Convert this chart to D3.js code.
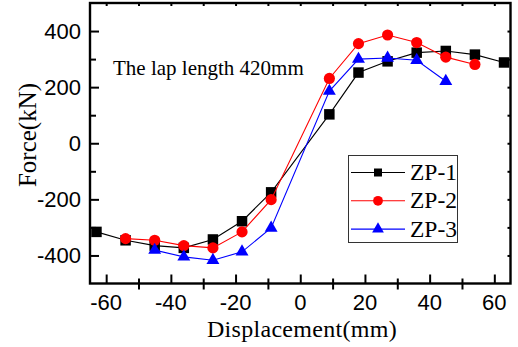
<!DOCTYPE html>
<html>
<head>
<meta charset="utf-8">
<script src="https://cdn.jsdelivr.net/npm/d3@7"></script>
<style>
  html, body { margin: 0; padding: 0; background: #fff; }
  svg { display: block; }
</style>
</head>
<body>
<svg id="chart" width="518" height="347"></svg>
<script>
// Displacement steps (mm) and measured force (kN) for each specimen
const dispZP1 = [-63, -54, -45, -36, -27, -18, -9, 9, 18, 27, 36, 45, 54, 63];
const forceZP1 = [-316, -346, -365, -373, -343, -278, -175, 103, 252, 292, 323, 329, 316, 288];

const dispZP2 = [-54, -45, -36, -27, -18, -9, 9, 18, 27, 36, 45, 54];
const forceZP2 = [-340, -346, -365, -373, -316, -201, 231, 355, 386, 359, 307, 281];

const dispZP3 = [-45, -36, -27, -18, -9, 9, 18, 27, 36, 45];
const forceZP3 = [-381, -405, -417, -387, -302, 186, 300, 304, 296, 221];

const seriesNames = ["ZP-1", "ZP-2", "ZP-3"];
const xTicks = [-60, -40, -20, 0, 20, 40, 60];
const yTicks = [-400, -200, 0, 200, 400];

const series = [
  { name: seriesNames[0], x: dispZP1, y: forceZP1, color: "#000000", symbol: d3.symbolSquare },
  { name: seriesNames[1], x: dispZP2, y: forceZP2, color: "#ff0000", symbol: d3.symbolCircle },
  { name: seriesNames[2], x: dispZP3, y: forceZP3, color: "#0000ff", symbol: d3.symbolTriangle }
];

const svg = d3.select("#chart");
const plot = { left: 90, right: 510.5, top: 3, bottom: 283.5 };

const x = d3.scaleLinear().domain([-65, 65]).range([plot.left, plot.right]);
const y = d3.scaleLinear().domain([-500, 500]).range([plot.bottom, plot.top]);

const sans = "'Liberation Sans', Arial, sans-serif";
const serif = "'Liberation Serif', 'Times New Roman', serif";

// symbol areas: squares ~10.5px, circles ~11px, triangles ~12.5px wide
const symbolSize = s => s === d3.symbolSquare ? 110 : s === d3.symbolCircle ? 98 : 72;

// ---- axes ----
const xMinor = d3.range(-50, 61, 20);
const yMinor = d3.range(-300, 301, 200);

// bottom: major ticks inward, minor ticks crossing
const bottom = svg.append("g").attr("transform", `translate(0,${plot.bottom})`);
bottom.call(d3.axisBottom(x).tickValues(xTicks).tickSize(-9).tickFormat(""))
  .call(g => g.select(".domain").remove());
bottom.selectAll("line").attr("stroke", "#000").attr("stroke-width", 2);
svg.append("g").attr("transform", `translate(0,${plot.bottom - 5})`)
  .call(d3.axisBottom(x).tickValues(xMinor).tickSize(11).tickFormat(""))
  .call(g => g.select(".domain").remove())
  .selectAll("line").attr("stroke", "#000").attr("stroke-width", 2);

// left: major and minor ticks inward
const left = svg.append("g").attr("transform", `translate(${plot.left},0)`);
left.call(d3.axisLeft(y).tickValues(yTicks).tickSize(-9).tickFormat(""))
  .call(g => g.select(".domain").remove());
left.selectAll("line").attr("stroke", "#000").attr("stroke-width", 2);
svg.append("g").attr("transform", `translate(${plot.left},0)`)
  .call(d3.axisLeft(y).tickValues(yMinor).tickSize(-6).tickFormat(""))
  .call(g => g.select(".domain").remove())
  .selectAll("line").attr("stroke", "#000").attr("stroke-width", 2);

// top and right: short inward ticks
svg.append("g").attr("transform", `translate(0,${plot.top})`)
  .call(d3.axisTop(x).tickValues(xTicks.concat(xMinor)).tickSize(-3).tickFormat(""))
  .call(g => g.select(".domain").remove())
  .selectAll("line").attr("stroke", "#000").attr("stroke-width", 2);
svg.append("g").attr("transform", `translate(${plot.right},0)`)
  .call(d3.axisRight(y).tickValues(yTicks.concat(yMinor)).tickSize(-3).tickFormat(""))
  .call(g => g.select(".domain").remove())
  .selectAll("line").attr("stroke", "#000").attr("stroke-width", 2);

// frame
svg.append("rect")
  .attr("x", plot.left).attr("y", plot.top)
  .attr("width", plot.right - plot.left).attr("height", plot.bottom - plot.top)
  .attr("fill", "none").attr("stroke", "#000").attr("stroke-width", 2.4);

// tick labels
svg.append("g").selectAll("text").data(xTicks).join("text")
  .attr("x", d => x(d)).attr("y", 310)
  .attr("text-anchor", "middle")
  .attr("font-family", sans).attr("font-size", 22)
  .text(d => d);
svg.append("g").selectAll("text").data(yTicks).join("text")
  .attr("x", 81).attr("y", d => y(d))
  .attr("dy", "0.36em")
  .attr("text-anchor", "end")
  .attr("font-family", sans).attr("font-size", 22)
  .text(d => d);

// axis titles
svg.append("text")
  .attr("x", 302).attr("y", 337)
  .attr("text-anchor", "middle")
  .attr("font-family", serif).attr("font-size", 24)
  .attr("letter-spacing", 0.3)
  .text("Displacement(mm)");
svg.append("text")
  .attr("transform", "translate(36,135) rotate(-90)")
  .attr("text-anchor", "middle")
  .attr("font-family", serif).attr("font-size", 25)
  .text("Force(kN)");

// annotation
svg.append("text")
  .attr("x", 113).attr("y", 75)
  .attr("font-family", serif).attr("font-size", 21)
  .text("The lap length 420mm");

// ---- data ----
const line = d3.line().x(d => x(d[0])).y(d => y(d[1]));
series.forEach(s => {
  const pts = s.x.map((v, i) => [v, s.y[i]]);
  const g = svg.append("g");
  g.append("path").datum(pts)
    .attr("d", line).attr("fill", "none")
    .attr("stroke", s.color).attr("stroke-width", 1.1);
  g.selectAll("path.pt").data(pts).join("path")
    .attr("class", "pt")
    .attr("transform", d => `translate(${x(d[0])},${y(d[1])})`)
    .attr("d", d3.symbol(s.symbol, symbolSize(s.symbol)))
    .attr("fill", s.color);
});

// ---- legend ----
const legend = svg.append("g");
legend.append("rect")
  .attr("x", 348.5).attr("y", 155.5).attr("width", 109).attr("height", 87)
  .attr("fill", "#fff").attr("stroke", "#333").attr("stroke-width", 1);
series.forEach((s, i) => {
  const cy = 172.5 + i * 28.3;
  legend.append("line")
    .attr("x1", 351).attr("x2", 405).attr("y1", cy).attr("y2", cy)
    .attr("stroke", s.color).attr("stroke-width", 1.1);
  legend.append("path")
    .attr("transform", `translate(378,${cy})`)
    .attr("d", d3.symbol(s.symbol, s.symbol === d3.symbolSquare ? 64 : s.symbol === d3.symbolCircle ? 75 : 60))
    .attr("fill", s.color);
  legend.append("text")
    .attr("x", 410).attr("y", cy + 7.5)
    .attr("font-family", serif).attr("font-size", 23.5)
    .text(s.name);
});
</script>
</body>
</html>
